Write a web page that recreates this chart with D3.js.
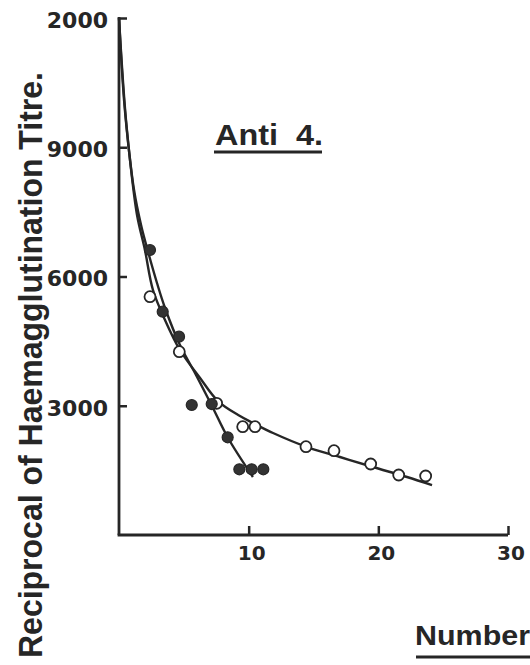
<!DOCTYPE html>
<html>
<head>
<meta charset="utf-8">
<script src="https://cdn.jsdelivr.net/npm/d3@7"></script>
<style>
  html, body { margin: 0; padding: 0; background: #fff; }
  svg { display: block; }
</style>
</head>
<body>
<svg id="chart" width="530" height="665"></svg>
<script>
// ---- data ----
const xTickValues = [10, 20, 30];
const xTickLabels = ["10", "20", "30"];
const yTickValues = [3000, 6000, 9000, 12000];
const yTickLabels = ["3000", "6000", "9000", "2000"];

// filled circles
const filledX = [2.39, 3.37, 4.63, 5.61, 7.15, 8.38, 9.28, 10.23, 11.13];
const filledY = [6615, 5183, 4603, 3017, 3040, 2268, 1525, 1525, 1525];

// open circles
const openX = [2.39, 4.65, 7.53, 9.54, 10.49, 14.42, 16.58, 19.41, 21.57, 23.65];
const openY = [5531, 4254, 3057, 2514, 2514, 2049, 1957, 1648, 1393, 1369];

// fitted curve through the filled circles (traced)
const curveAX = [0, 0.54, 1.16, 1.70, 2.31, 2.93, 3.55, 4.70, 5.94, 7.17, 8.41, 10.33];
const curveAY = [12000, 9632, 8008, 7195, 6499, 5849, 5269, 4410, 3714, 2994, 2251, 1346];

// fitted curve through the open circles (traced)
const curveBX = [0, 0.39, 0.85, 1.39, 2.0, 2.62, 3.55, 4.70, 6.25, 7.63, 9.33, 10.33, 11.88, 14.5, 17.04, 19.59, 22.21, 24.14];
const curveBY = [12000, 10096, 8704, 7427, 6615, 5686, 4990, 4294, 3644, 3110, 2762, 2600, 2367, 2042, 1810, 1578, 1346, 1160];

const yAxisTitle = "Reciprocal of Haemagglutination Titre.";
const panelTitle = "Anti  4.";
const xAxisTitle = "Number";

// ---- drawing ----
const ink = "#262626";
const svg = d3.select("#chart");

const x = d3.scaleLinear().domain([0, 30]).range([119, 508]);
const y = d3.scaleLinear().domain([0, 12000]).range([535, 18]);

// axes lines
svg.append("line")
  .attr("x1", x(0)).attr("x2", x(0))
  .attr("y1", y(0)).attr("y2", y(12000) - 1)
  .attr("stroke", ink).attr("stroke-width", 2.8);
svg.append("line")
  .attr("x1", x(0) - 1.4).attr("x2", x(30))
  .attr("y1", y(0)).attr("y2", y(0))
  .attr("stroke", ink).attr("stroke-width", 2.8);

// y ticks (inward) and labels
const yAxis = d3.axisRight(y).tickValues(yTickValues)
  .tickSize(8).tickPadding(0).tickFormat(() => "");
const gy = svg.append("g").attr("transform", `translate(${x(0)},0)`).call(yAxis);
gy.select(".domain").remove();
gy.selectAll(".tick line").attr("stroke", ink).attr("stroke-width", 2.5);

svg.append("g").selectAll("text")
  .data(yTickValues)
  .join("text")
  .attr("x", 108)
  .attr("y", d => y(d) + 2)
  .attr("dy", "0.36em")
  .attr("text-anchor", "end")
  .attr("font-family", "DejaVu Sans")
  .attr("font-weight", "bold")
  .attr("font-size", 22)
  .attr("fill", ink)
  .text((d, i) => yTickLabels[i]);

// x ticks (inward) and labels
const xAxis = d3.axisTop(x).tickValues(xTickValues)
  .tickSize(9).tickFormat(() => "");
const gx = svg.append("g").attr("transform", `translate(0,${y(0)})`).call(xAxis);
gx.select(".domain").remove();
gx.selectAll(".tick line").attr("stroke", ink).attr("stroke-width", 2.5);

svg.append("g").selectAll("text")
  .data(xTickValues)
  .join("text")
  .attr("x", d => x(d) + 3)
  .attr("y", 560)
  .attr("text-anchor", "middle")
  .attr("font-family", "DejaVu Sans")
  .attr("font-weight", "bold")
  .attr("font-size", 20)
  .attr("fill", ink)
  .text((d, i) => xTickLabels[i]);

// curves
const line = d3.line()
  .x(d => x(d[0]))
  .y(d => y(d[1]))
  .curve(d3.curveCatmullRom.alpha(0.5));

svg.append("path")
  .datum(curveAX.map((v, i) => [v, curveAY[i]]))
  .attr("d", line)
  .attr("fill", "none").attr("stroke", ink).attr("stroke-width", 2.4);

svg.append("path")
  .datum(curveBX.map((v, i) => [v, curveBY[i]]))
  .attr("d", line)
  .attr("fill", "none").attr("stroke", ink).attr("stroke-width", 2.4);

// open circles
svg.append("g").selectAll("circle")
  .data(openX.map((v, i) => [v, openY[i]]))
  .join("circle")
  .attr("cx", d => x(d[0]))
  .attr("cy", d => y(d[1]))
  .attr("r", 5.5)
  .attr("fill", "#fff")
  .attr("stroke", ink)
  .attr("stroke-width", 1.8);

// filled circles
svg.append("g").selectAll("circle")
  .data(filledX.map((v, i) => [v, filledY[i]]))
  .join("circle")
  .attr("cx", d => x(d[0]))
  .attr("cy", d => y(d[1]))
  .attr("r", 5.5)
  .attr("fill", "#333")
  .attr("stroke", ink)
  .attr("stroke-width", 1.2);

// y-axis title
svg.append("text")
  .attr("transform", "translate(42,658) rotate(-90)")
  .attr("x", 0).attr("y", 0)
  .attr("font-family", "Liberation Sans, Arial, sans-serif")
  .attr("font-weight", "bold")
  .attr("font-size", 34)
  .attr("textLength", 586)
  .attr("lengthAdjust", "spacingAndGlyphs")
  .attr("fill", ink)
  .text(yAxisTitle);

// panel title with underline
svg.append("text")
  .attr("x", 215).attr("y", 145)
  .attr("font-family", "Liberation Sans, Arial, sans-serif")
  .attr("font-weight", "bold")
  .attr("font-size", 29)
  .attr("textLength", 108)
  .attr("lengthAdjust", "spacingAndGlyphs")
  .style("white-space", "pre")
  .attr("fill", ink)
  .text(panelTitle);
svg.append("line")
  .attr("x1", 214).attr("x2", 322).attr("y1", 152).attr("y2", 152)
  .attr("stroke", ink).attr("stroke-width", 3);

// x-axis title (cut at the right edge) with underline
svg.append("text")
  .attr("x", 415).attr("y", 645)
  .attr("font-family", "Liberation Sans, Arial, sans-serif")
  .attr("font-weight", "bold")
  .attr("font-size", 28)
  .attr("textLength", 115)
  .attr("lengthAdjust", "spacingAndGlyphs")
  .attr("fill", ink)
  .text(xAxisTitle);
svg.append("line")
  .attr("x1", 416).attr("x2", 530).attr("y1", 657).attr("y2", 657)
  .attr("stroke", ink).attr("stroke-width", 3);
</script>
</body>
</html>
